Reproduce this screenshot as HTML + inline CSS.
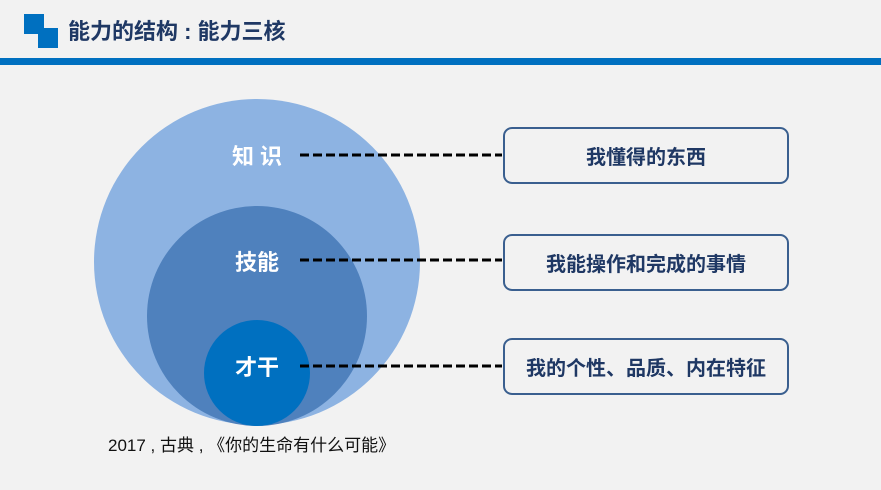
<!DOCTYPE html>
<html><head><meta charset="utf-8"><style>
body{margin:0;width:881px;height:490px;background:#f2f2f2;overflow:hidden;position:relative;font-family:"Liberation Sans","Noto Sans CJK SC",sans-serif}
.abs{position:absolute}
.box{position:absolute;left:503px;width:282px;height:53px;border:2px solid #3a5f8f;border-radius:9px;box-sizing:content-box;display:flex;align-items:center;justify-content:center;color:#1f3864;font-weight:bold;font-size:20px}
</style></head><body>
<div class="abs" style="left:24px;top:14px;width:20px;height:20px;background:#0070c0"></div>
<div class="abs" style="left:38px;top:28px;width:20px;height:20px;background:#0070c0"></div>
<div class="abs" style="left:68px;top:18px;font-size:22px;font-weight:bold;color:#1f3864;line-height:28px">能力的结构 : 能力三核</div>
<div class="abs" style="left:0;top:58px;width:881px;height:7px;background:#0070c0"></div>
<svg class="abs" style="left:0;top:0" width="881" height="490">
<circle cx="257" cy="262" r="163" fill="#8db3e2"/>
<circle cx="257" cy="316" r="110" fill="#4f81bd"/>
<circle cx="257" cy="373" r="53" fill="#0070c0"/>
<g stroke="#000" stroke-width="3" stroke-dasharray="9,4">
<line x1="300" y1="155" x2="502" y2="155"/>
<line x1="300" y1="260" x2="502" y2="260"/>
<line x1="300" y1="366" x2="502" y2="366"/>
</g>
<g fill="#fff" font-weight="bold" font-size="22" text-anchor="middle" font-family="Liberation Sans,Noto Sans CJK SC,sans-serif">
<text x="257" y="164">知 识</text>
<text x="257" y="270">技能</text>
<text x="257" y="375">才干</text>
</g>
<text x="108" y="451" font-size="17" fill="#111" font-family="Liberation Sans,Noto Sans CJK SC,sans-serif">2017 , 古典 , 《你的生命有什么可能》</text>
</svg>
<div class="box" style="top:127px">我懂得的东西</div>
<div class="box" style="top:234px">我能操作和完成的事情</div>
<div class="box" style="top:338px">我的个性、品质、内在特征</div>
</body></html>
